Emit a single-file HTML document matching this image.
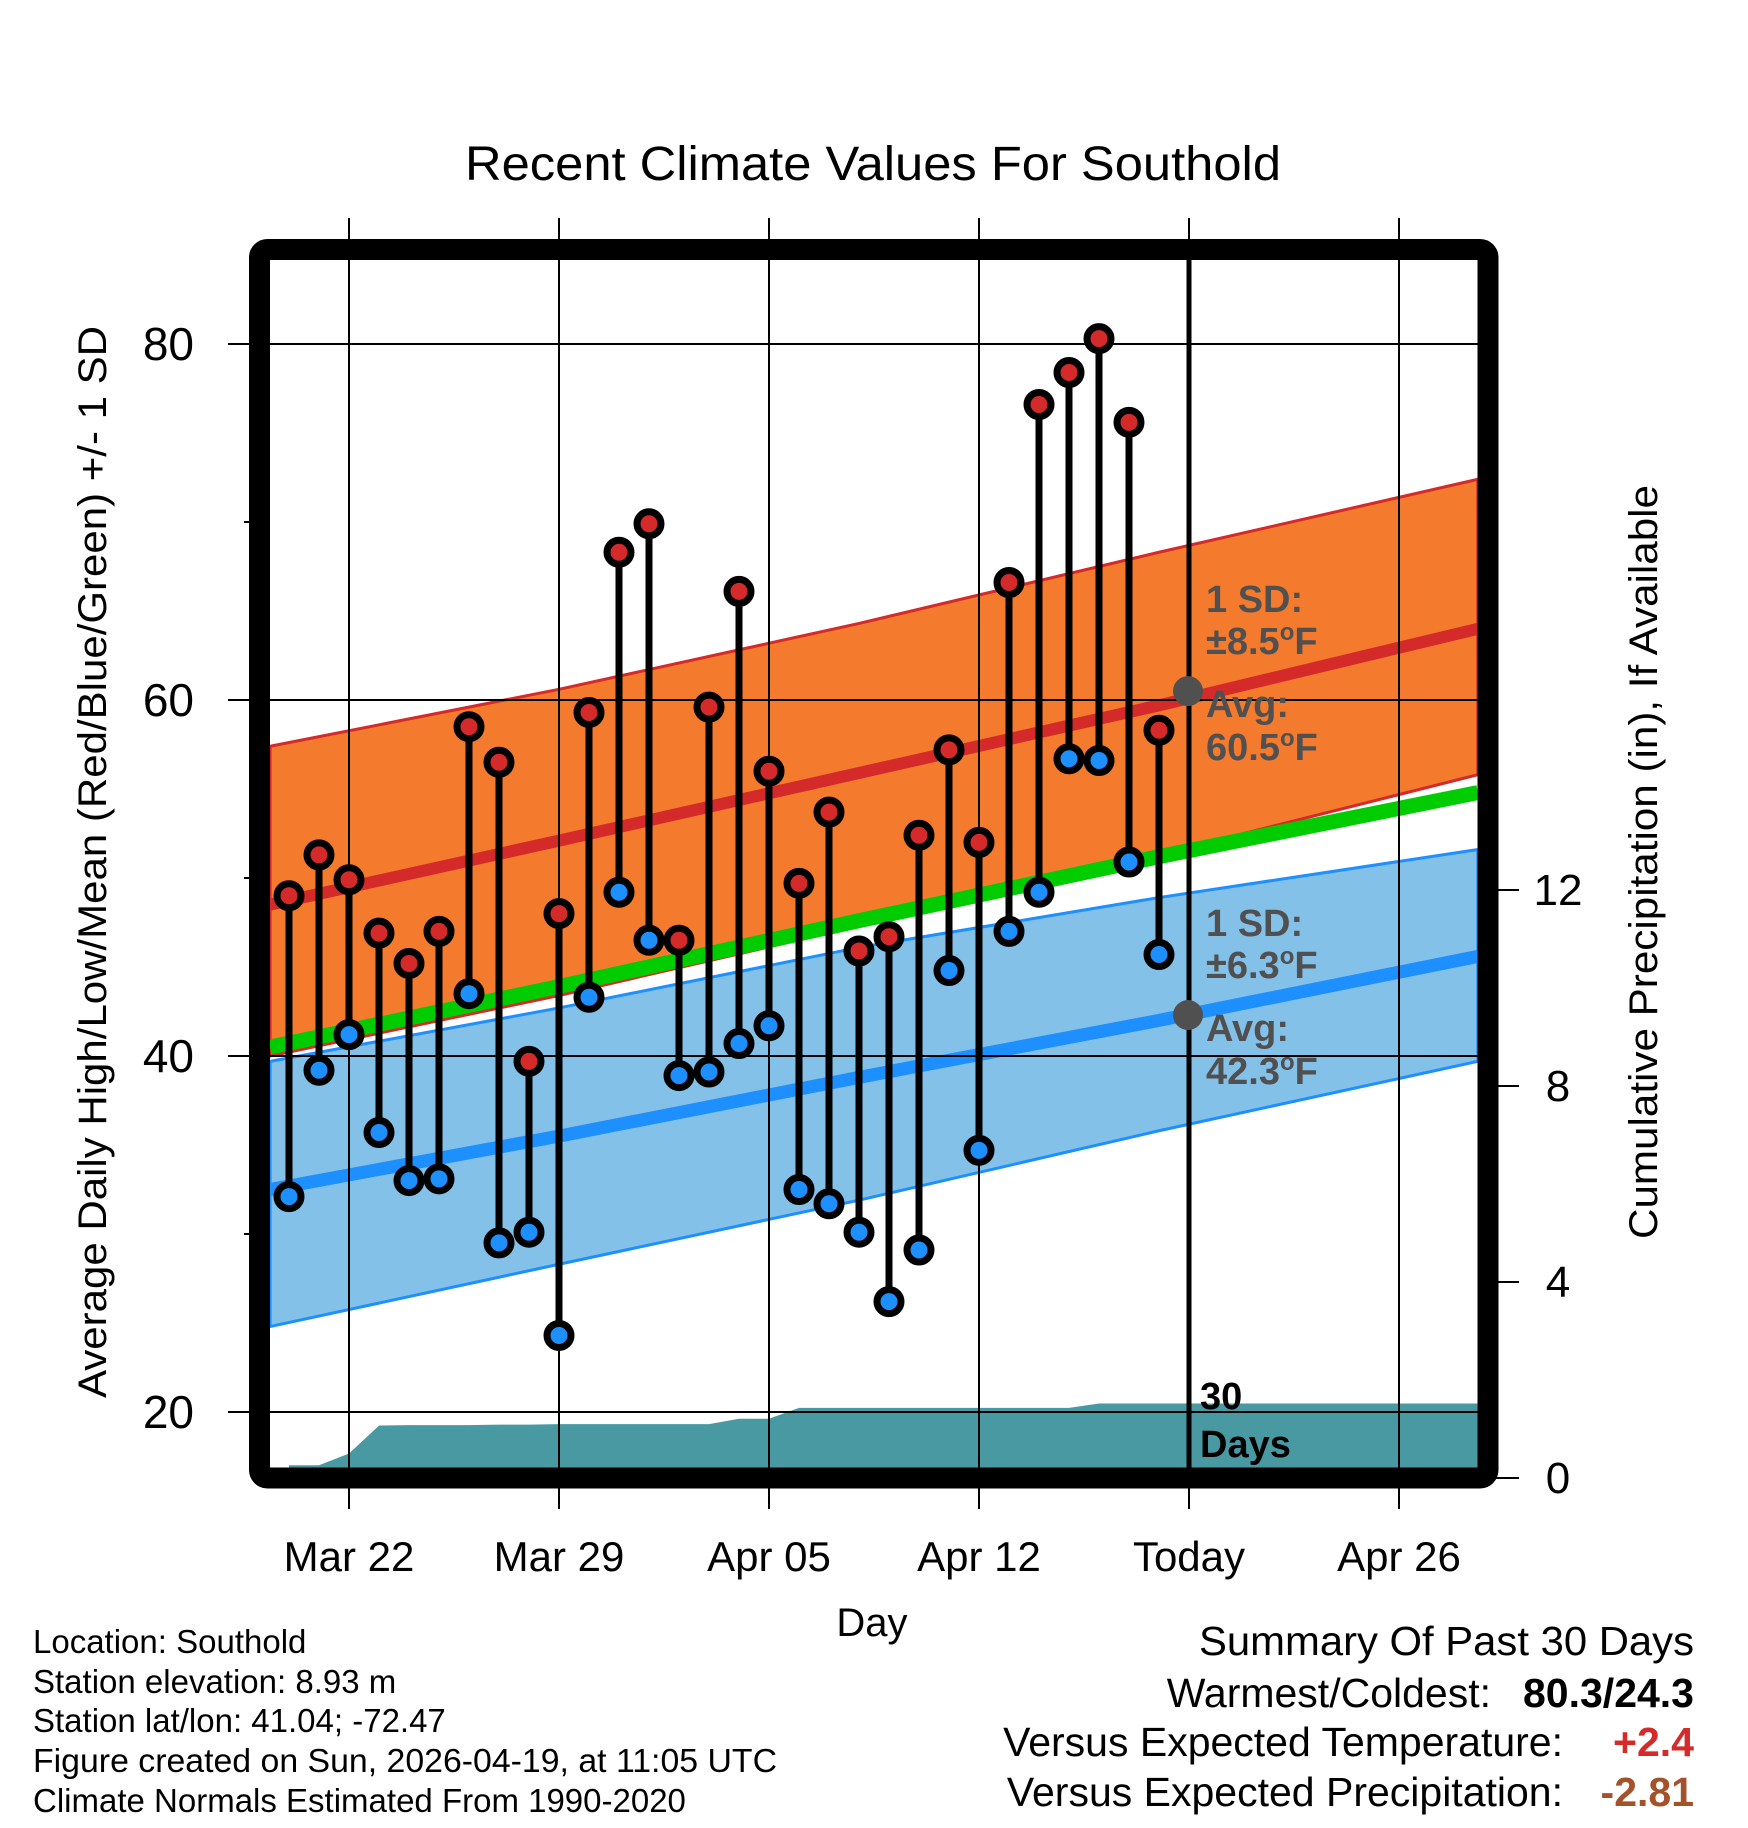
<!DOCTYPE html>
<html><head><meta charset="utf-8">
<style>
html,body{margin:0;padding:0;background:#fff;}
svg{display:block;font-family:"Liberation Sans",Arial,sans-serif;}
</style></head>
<body>
<svg id="chart" width="1748" height="1828" viewBox="0 0 1748 1828" xmlns="http://www.w3.org/2000/svg">
<text x="873" y="180" font-size="48" text-anchor="middle" textLength="816" lengthAdjust="spacingAndGlyphs">Recent Climate Values For Southold</text>
<g id="plot"></g>
<g id="over"></g>
<text x="872" y="1636" font-size="40" text-anchor="middle">Day</text>
<text transform="translate(106,862) rotate(-90)" font-size="40" text-anchor="middle" textLength="1072" lengthAdjust="spacingAndGlyphs">Average Daily High/Low/Mean (Red/Blue/Green) +/- 1 SD</text>
<text transform="translate(1657,862) rotate(-90)" font-size="40" text-anchor="middle" textLength="754" lengthAdjust="spacingAndGlyphs">Cumulative Precipitation (in), If Available</text>
<g font-size="33">
<text x="33" y="1653">Location: Southold</text>
<text x="33" y="1693">Station elevation: 8.93 m</text>
<text x="33" y="1732">Station lat/lon: 41.04; -72.47</text>
<text x="33" y="1772" textLength="744" lengthAdjust="spacingAndGlyphs">Figure created on Sun, 2026-04-19, at 11:05 UTC</text>
<text x="33" y="1812">Climate Normals Estimated From 1990-2020</text>
</g>
<g font-size="41">
<text x="1694" y="1655" text-anchor="end" textLength="495" lengthAdjust="spacingAndGlyphs">Summary Of Past 30 Days</text>
<text x="1491" y="1707" text-anchor="end">Warmest/Coldest:</text>
<text x="1694" y="1707" text-anchor="end" font-weight="bold">80.3/24.3</text>
<text x="1563" y="1756" text-anchor="end">Versus Expected Temperature:</text>
<text x="1694" y="1756" text-anchor="end" font-weight="bold" fill="#d42a2a">+2.4</text>
<text x="1563" y="1806" text-anchor="end">Versus Expected Precipitation:</text>
<text x="1694" y="1806" text-anchor="end" font-weight="bold" fill="#a4522a">-2.81</text>
</g>
</svg>
<script>
// data: day index 0 = Mar 22
const obsDays = [-2,-1,0,1,2,3,4,5,6,7,8,9,10,11,12,13,14,15,16,17,18,19,20,21,22,23,24,25,26,27];
const highs = [49.0,51.3,49.9,46.9,45.2,47.0,58.5,56.5,39.7,48.0,59.3,68.3,69.9,46.5,59.6,66.1,56.0,49.7,53.7,45.9,46.7,52.4,57.2,52.0,66.6,76.6,78.4,80.3,75.6,58.3];
const lows = [32.1,39.2,41.2,35.7,33.0,33.1,43.5,29.5,30.1,24.3,43.3,49.2,46.5,38.9,39.1,40.7,41.7,32.5,31.7,30.1,26.2,29.1,44.8,34.7,47.0,49.2,56.7,56.6,50.9,45.7];
const precip = [0.26,0.26,0.5,1.07,1.08,1.08,1.08,1.09,1.09,1.10,1.10,1.10,1.10,1.10,1.10,1.21,1.21,1.43,1.43,1.43,1.43,1.43,1.43,1.43,1.43,1.43,1.43,1.52,1.52,1.52];
const normDays = [-2.63,7,17,27,37.63];
const normHighUpper = [57.4,60.6,64.3,68.3,72.4];
const normHigh = [48.5,52.1,55.9,59.7,64.0];
const normHighLower = [40.0,43.4,47.3,51.3,55.8];
const normMean = [40.5,43.9,47.6,51.2,54.8];
const normLowUpper = [39.7,42.7,46.1,48.9,51.6];
const normLow = [32.5,35.5,38.8,42.0,45.6];
const normLowLower = [24.8,28.3,31.9,35.8,39.7];
const xTickDays = [0,7,14,21,28,35];
const xTickLabels = ["Mar 22","Mar 29","Apr 05","Apr 12","Today","Apr 26"];
const yTicks = [20,40,60,80];
const yMinor = [30,50,70];
const y2Ticks = [0,4,8,12];

const NS="http://www.w3.org/2000/svg";
const X = d => 349 + 30*d;
const Y = v => 344 + (80 - v)*17.8;
const Y2 = p => 1478 - p*49;
const plot=document.getElementById('plot'), over=document.getElementById('over');
function mk(parent,tag,attrs){const e=document.createElementNS(NS,tag);for(const k in attrs)e.setAttribute(k,attrs[k]);parent.appendChild(e);return e;}
function line(arr){return normDays.map((d,i)=>X(d)+','+Y(arr[i])).join(' ');}

let e=mk(plot,'polygon',{points:line(normHighUpper)+' '+normDays.slice().reverse().map((d,i)=>X(d)+','+Y(normHighLower[normDays.length-1-i])).join(' '),fill:'#f47a2e',stroke:'#d42a2a','stroke-width':3});


e=mk(plot,'polygon',{points:line(normLowUpper)+' '+normDays.slice().reverse().map((d,i)=>X(d)+','+Y(normLowLower[normDays.length-1-i])).join(' '),fill:'#84c1e8',stroke:'#1e8fff','stroke-width':3});


e=mk(plot,'polyline',{points:line(normMean),fill:'none',stroke:'#00cc00','stroke-width':15});


e=mk(plot,'polyline',{points:line(normHigh),fill:'none',stroke:'#d42a2a','stroke-width':12});


e=mk(plot,'polyline',{points:line(normLow),fill:'none',stroke:'#1e8fff','stroke-width':13});



let pts=[X(obsDays[0])+','+1468];
obsDays.forEach((d,i)=>pts.push(X(d)+','+Y2(precip[i])));
pts.push('1478,'+Y2(precip[precip.length-1]));
pts.push('1478,1468');
e=mk(plot,'polygon',{points:pts.join(' '),fill:'#4899a2'});



xTickDays.forEach((d,i)=>{
  const g=mk(plot,'line',{x1:X(d),x2:X(d),y1:218,y2:1509,stroke:'#000','stroke-width':2});
  
  
  if(i==4){
    const tl=mk(plot,'line',{x1:X(d),x2:X(d),y1:260,y2:1468,stroke:'#000','stroke-width':5});
    
    
  }
  const t=mk(over,'text',{x:X(d),y:1571,'font-size':42,'text-anchor':'middle'});
  t.textContent=xTickLabels[i];
  
  
});
yTicks.forEach(v=>{
  const g=mk(plot,'line',{x1:228,x2:1478,y1:Y(v),y2:Y(v),stroke:'#000','stroke-width':2});
  
  
  const t=mk(over,'text',{x:194,y:Y(v)+16,'font-size':46,'text-anchor':'end'});
  t.textContent=v;
  
  
});
yMinor.forEach(v=>{
  const g=mk(plot,'line',{x1:244,x2:260,y1:Y(v),y2:Y(v),stroke:'#000','stroke-width':2});
  
  
});
y2Ticks.forEach(p=>{
  const g=mk(plot,'line',{x1:1490,x2:1519,y1:Y2(p),y2:Y2(p),stroke:'#000','stroke-width':2});
  
  
  const t=mk(over,'text',{x:1558,y:Y2(p)+15,'font-size':44,'text-anchor':'middle'});
  t.textContent=p;
  
  
});

obsDays.forEach((d,i)=>{
  const s=mk(plot,'line',{x1:X(d),x2:X(d),y1:Y(highs[i]),y2:Y(lows[i]),stroke:'#000','stroke-width':7});
  
  
});
obsDays.forEach((d,i)=>{
  const h=mk(plot,'circle',{cx:X(d),cy:Y(highs[i]),r:12,fill:'#d42a2a',stroke:'#000','stroke-width':7});
  
  
  const l=mk(plot,'circle',{cx:X(d),cy:Y(lows[i]),r:12,fill:'#1e8fff',stroke:'#000','stroke-width':7});
  
  
});

function txt(x,y,s,name,extra){const t=mk(over,'text',Object.assign({x:x,y:y,'font-size':38,'font-weight':'bold',fill:'#505050'},extra||{}));t.textContent=s;return t;}
function deg(t,num){t.textContent=num;const s=mk(t,'tspan',{'font-size':24,dy:-14});s.textContent='o';const f=mk(t,'tspan',{dy:14});f.textContent='F';}
e=mk(over,'circle',{cx:1188,cy:Y(60.5),r:15,fill:'#505050'});


e=mk(over,'circle',{cx:1188,cy:Y(42.3),r:15,fill:'#505050'});


txt(1206,612,'1 SD:','high-sd-label');
deg(txt(1206,654,'','high-sd-value'),'±8.5');
txt(1206,717,'Avg:','high-avg-label');
deg(txt(1206,760,'','high-avg-value'),'60.5');
txt(1206,936,'1 SD:','low-sd-label');
deg(txt(1206,978,'','low-sd-value'),'±6.3');
txt(1206,1041,'Avg:','low-avg-label');
deg(txt(1206,1084,'','low-avg-value'),'42.3');
txt(1200,1409,'30','days-count-label',{fill:'#000'});
txt(1200,1457,'Days','days-word-label',{fill:'#000'});

e=mk(over,'rect',{x:259.5,y:249.5,width:1228.5,height:1228.5,fill:'none',stroke:'#000','stroke-width':21,rx:8});


</script>
</body></html>
